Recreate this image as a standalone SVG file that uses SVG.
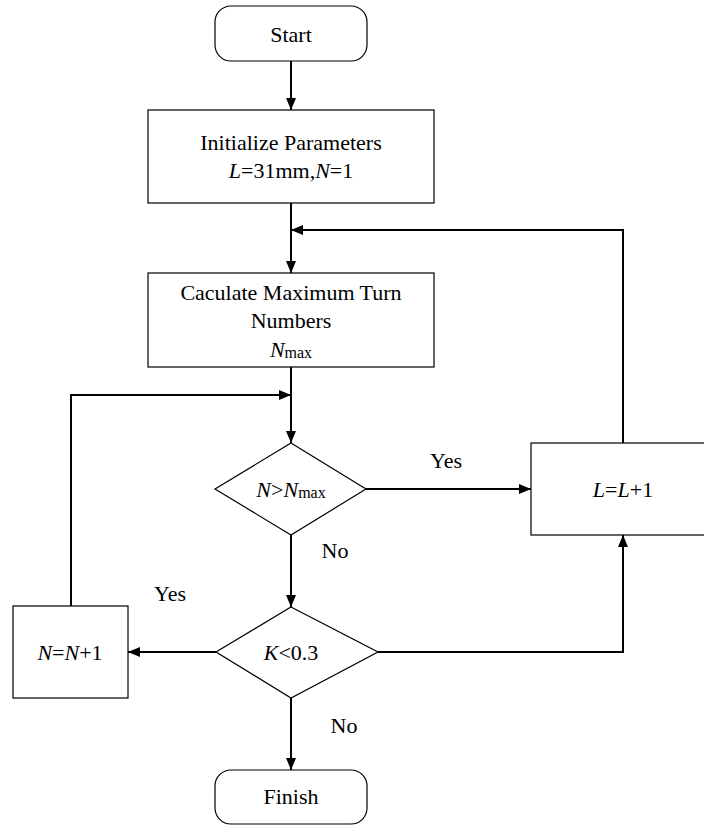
<svg xmlns="http://www.w3.org/2000/svg" width="704" height="827" viewBox="0 0 704 827">
<style>
.box{fill:#fff;stroke:#000;stroke-width:1.2}
.ln{fill:none;stroke:#000;stroke-width:2}
text{font-family:"Liberation Serif","Times New Roman",Tinos,"DejaVu Serif",serif;font-size:22px;fill:#000;text-anchor:middle}
.it{font-style:italic}
.sub{font-size:16px}
</style>
<defs>
<marker id="ah" viewBox="0 0 12 10" refX="12" refY="5" markerWidth="12" markerHeight="10" markerUnits="userSpaceOnUse" orient="auto">
<path d="M0,0 L12,5 L0,10 Z" fill="#000"/>
</marker>
</defs>
<rect width="704" height="827" fill="#fff"/>
<g id="connectors" font-family="Liberation Serif, serif">
<line class="ln" x1="291" y1="61" x2="291" y2="110" marker-end="url(#ah)"/>
<line class="ln" x1="291" y1="203" x2="291" y2="273" marker-end="url(#ah)"/>
<polyline class="ln" points="623,443 623,230 291,230" marker-end="url(#ah)"/>
<line class="ln" x1="291" y1="367" x2="291" y2="443" marker-end="url(#ah)"/>
<polyline class="ln" points="71,606 71,395 291,395" marker-end="url(#ah)"/>
<line class="ln" x1="366" y1="489" x2="531" y2="489" marker-end="url(#ah)"/>
<line class="ln" x1="291" y1="535" x2="291" y2="607" marker-end="url(#ah)"/>
<line class="ln" x1="216" y1="652" x2="128" y2="652" marker-end="url(#ah)"/>
<polyline class="ln" points="378,652 623,652 623,535" marker-end="url(#ah)"/>
<line class="ln" x1="291" y1="698" x2="291" y2="770" marker-end="url(#ah)"/>
<text x="446" y="468">Yes</text>
<text x="335" y="558">No</text>
<text x="170" y="601">Yes</text>
<text x="344" y="733">No</text>
</g>
<g id="start" font-family="Liberation Serif, serif">
<rect class="box" x="215" y="6" width="152" height="55" rx="16"/>
<text x="291" y="42">Start</text>
</g>
<g id="init" font-family="Liberation Serif, serif">
<rect class="box" x="148" y="110" width="286" height="93"/>
<text x="291" y="150">Initialize Parameters</text>
<text x="291" y="178"><tspan class="it">L</tspan>=31mm,<tspan class="it">N</tspan>=1</text>
</g>
<g id="calc" font-family="Liberation Serif, serif">
<rect class="box" x="148" y="273" width="286" height="94"/>
<text x="291" y="300">Caculate Maximum Turn</text>
<text x="291" y="328">Numbers</text>
<text x="291" y="357"><tspan class="it">N</tspan><tspan class="sub" dy="1">max</tspan></text>
</g>
<g id="cond1" font-family="Liberation Serif, serif">
<polygon class="box" points="291,443 366,489 291,535 215,489"/>
<text x="291" y="497"><tspan class="it">N</tspan>&gt;<tspan class="it">N</tspan><tspan class="sub" dy="1">max</tspan></text>
</g>
<g id="incL" font-family="Liberation Serif, serif">
<rect class="box" x="531" y="443" width="184" height="92"/>
<text x="623" y="497"><tspan class="it">L</tspan>=<tspan class="it">L</tspan>+1</text>
</g>
<g id="cond2" font-family="Liberation Serif, serif">
<polygon class="box" points="291,607 378,652 291,698 216,652"/>
<text x="291" y="660"><tspan class="it">K</tspan>&lt;0.3</text>
</g>
<g id="incN" font-family="Liberation Serif, serif">
<rect class="box" x="13" y="606" width="115" height="92"/>
<text x="70" y="660"><tspan class="it">N</tspan>=<tspan class="it">N</tspan>+1</text>
</g>
<g id="finish" font-family="Liberation Serif, serif">
<rect class="box" x="215" y="770" width="152" height="54" rx="16"/>
<text x="291" y="804">Finish</text>
</g>
</svg>
